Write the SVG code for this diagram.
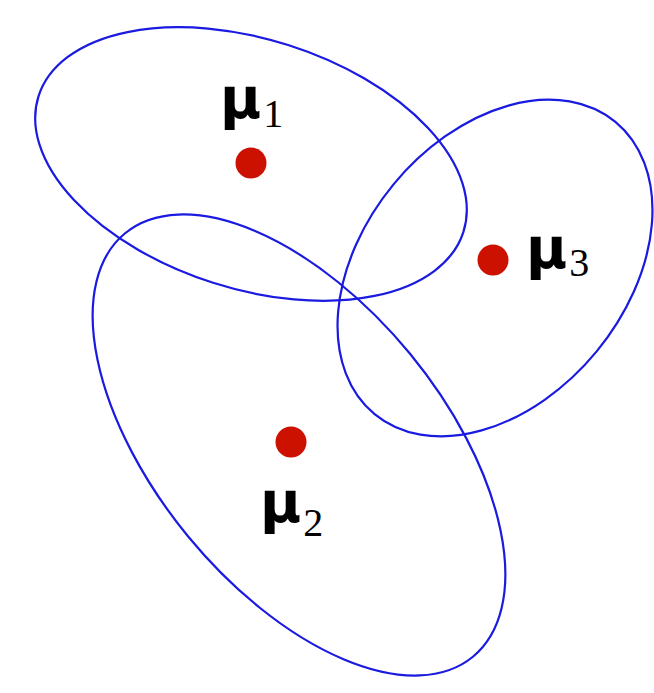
<svg xmlns="http://www.w3.org/2000/svg" width="654" height="693" viewBox="0 0 654 693">
<style>
.cl{fill:none;stroke:#1a1ae0;stroke-width:2.2}
.dot{fill:#cc1100}
.mu{font-family:"DejaVu Sans","Liberation Sans",sans-serif;font-weight:bold;font-size:56px;fill:#000}
.sub{font-family:"Liberation Serif","DejaVu Serif",serif;font-size:40px;fill:#000}
</style>
<rect width="654" height="693" fill="#fff"/>
<g id="cluster1">
<ellipse class="cl" cx="251" cy="164" rx="223" ry="124.7" transform="rotate(17.7 251 164)"/>
<circle class="dot" cx="251" cy="163" r="15.5"/>
<text x="220" y="118"><tspan class="mu">μ</tspan><tspan class="sub" dy="9" dx="2">1</tspan></text>
</g>
<g id="cluster2">
<ellipse class="cl" cx="299" cy="445" rx="274" ry="143.7" transform="rotate(50.6 299 445)"/>
<circle class="dot" cx="291" cy="442" r="15.5"/>
<text x="260" y="522"><tspan class="mu">μ</tspan><tspan class="sub" dy="14" dx="2">2</tspan></text>
</g>
<g id="cluster3">
<ellipse class="cl" cx="495" cy="268" rx="189.3" ry="131.5" transform="rotate(-50.5 495 268)"/>
<circle class="dot" cx="493" cy="260" r="15.5"/>
<text x="526" y="268"><tspan class="mu">μ</tspan><tspan class="sub" dy="8" dx="2">3</tspan></text>
</g>
</svg>
